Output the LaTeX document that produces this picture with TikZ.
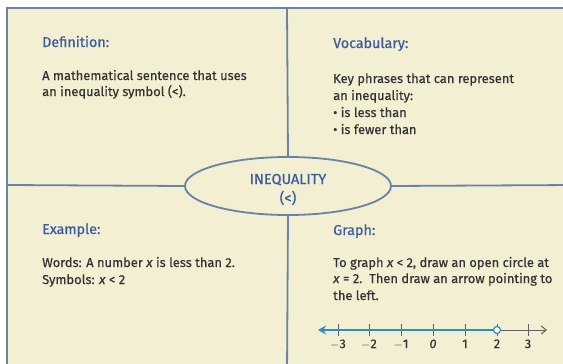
\documentclass[tikz,border=0pt]{standalone}
\usepackage{fontspec}
\setmainfont{Fira Sans}
\newfontfamily\bodyf[FakeBold=0.5]{Fira Sans}
\usetikzlibrary{arrows.meta,shapes.geometric}
\definecolor{cream}{HTML}{F3EFD3}
\definecolor{frame}{HTML}{6A82A6}
\definecolor{head}{HTML}{3A5B9E}
\definecolor{body}{HTML}{333333}
\definecolor{nblue}{HTML}{2F8CC4}
\definecolor{ngray}{HTML}{5E5E5E}
\tikzset{
  heading/.style={anchor=base west, inner sep=0pt, text=head, font=\bodyf\fontsize{14.3}{17}\selectfont},
  bodytxt/.style={anchor=base west, inner sep=0pt, text=body, font=\bodyf\fontsize{12.9}{15}\selectfont},
  divider/.style={draw=frame, line width=1.8pt},
  numlbl/.style={anchor=base, inner sep=0pt, text=body, font=\bodyf\fontsize{12.5}{14}\selectfont},
  tick/.style={draw=ngray, line width=0.8pt},
}
\begin{document}
\begin{tikzpicture}[x=1pt,y=-1pt]
\useasboundingbox (0,0) rectangle (563,364);
\fill[white] (0,0) rectangle (563,364);
% frame
\draw[divider, fill=cream] (7,8) rectangle (575,375);
\coordinate (T) at (287,8);
\coordinate (B) at (287,375);
\coordinate (L) at (7,185);
\coordinate (R) at (575,185);
\node[ellipse, draw=frame, line width=1.8pt, fill=cream, minimum width=206pt, minimum height=58pt, inner sep=0pt] (ctr) at (288,186) {};
\draw[divider] (T) -- (ctr.north);
\draw[divider] (ctr.south) -- (B);
\draw[divider] (L) -- (ctr.west);
\draw[divider] (ctr.east) -- (R);
\node[anchor=base, inner sep=0pt, text=head, font=\bodyf\fontsize{14.5}{16}\selectfont] (c1) at (288,184) {INEQUALITY};
\node[anchor=base, inner sep=0pt, text=head, font=\bodyf\fontsize{14.5}{16}\selectfont] (c2) at (288,203) {(<)};
% Definition
\node[heading] (dh) at (42,47) {Definition:};
\node[bodytxt] (d1) at (42,80) {A mathematical sentence that uses};
\node[bodytxt] (d2) at (42,96) {an inequality symbol (<).};
% Vocabulary
\node[heading] (vh) at (333,48) {Vocabulary:};
\node[bodytxt] (v1) at (333,83) {Key phrases that can represent};
\node[bodytxt] (v2) at (333,100) {an inequality:};
\node[bodytxt] (v3) at (333,117) {\textbullet\ is less than};
\node[bodytxt] (v4) at (333,134) {\textbullet\ is fewer than};
% Example
\node[heading] (eh) at (42,234) {Example:};
\node[bodytxt] (e1) at (42,267) {Words: A number \textit{x} is less than 2.};
\node[bodytxt] (e2) at (42,284) {Symbols: \textit{x} < 2};
% Graph
\node[heading] (gh) at (333,235) {Graph:};
\node[bodytxt] (g1) at (333,267) {To graph \textit{x} < 2, draw an open circle at};
\node[bodytxt] (g2) at (333,283) {\textit{x} = 2.\ \ Then draw an arrow pointing to};
\node[bodytxt] (g3) at (333,300) {the left.};
% number line
\coordinate (nl) at (318,330);
\coordinate (nr) at (547,330);
\coordinate (p2) at (497,330);
\draw[draw=ngray, line width=1pt, -{Straight Barb[length=5pt,width=8pt]}] (p2) -- (nr);
\foreach \v/\x/\t in {m3/338/$-$3, m2/369/$-$2, m1/401/$-$1, z/433/\textit{0}, o/465/1, t/497/2, th/528/3} {
  \coordinate (k\v) at (\x,330);
  \draw[tick] (\x,324) -- (\x,336);
  \node[numlbl] (l\v) at (\x,348) {\t};
}
\draw[draw=nblue, line width=2.6pt, {Stealth[length=8pt,width=9pt]}-] (nl) -- (p2);
\node[circle, draw=nblue, line width=1.2pt, fill=white, minimum size=7pt, inner sep=0pt] (oc) at (p2) {};
\end{tikzpicture}
\end{document}
